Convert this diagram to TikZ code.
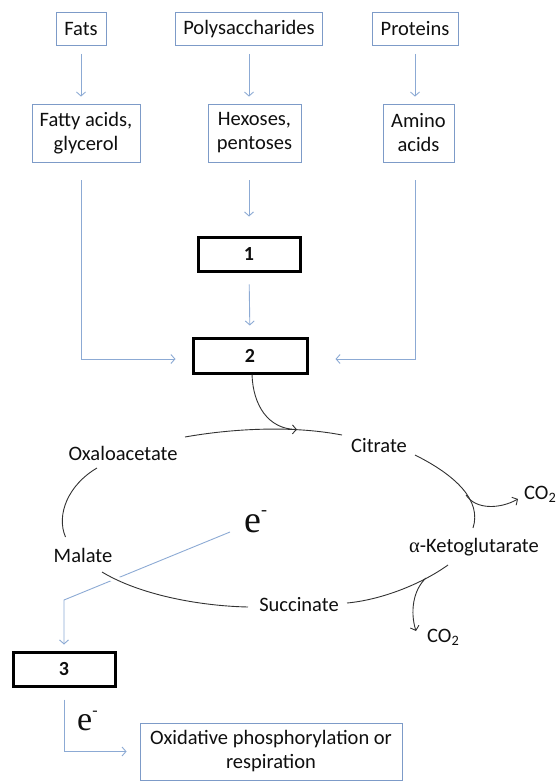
\documentclass[tikz,border=0pt]{standalone}
\usepackage{fontspec}
\setmainfont{Carlito}
\newfontfamily\serifeq{Liberation Serif}
\usetikzlibrary{arrows.meta,calc}
\definecolor{boxblue}{RGB}{125,155,200}
\definecolor{arrblue}{RGB}{140,170,212}
\definecolor{cyc}{RGB}{50,50,50}
\definecolor{txt}{RGB}{15,15,15}
\begin{document}
\begin{tikzpicture}[x=1pt,y=-1pt,
 lbl/.style={font=\fontsize{20.5}{24}\selectfont, text=txt, align=center, inner sep=0pt},
 bbox/.style={lbl, draw=boxblue, line width=0.8pt},
 kbox/.style={draw=black, line width=3pt, font=\fontsize{20}{22}\selectfont\bfseries, text=txt, inner sep=0pt},
 barrow/.style={draw=arrblue, line width=0.9pt, -{Straight Barb[length=4pt,width=9pt]}},
 cline/.style={draw=cyc, line width=0.9pt},
 carrow/.style={cline, -{Straight Barb[length=4pt,width=9pt]}},
 elec/.style={font=\serifeq\fontsize{38}{40}\selectfont, text=txt, inner sep=0pt}]
\useasboundingbox (0,0) rectangle (555,781);

% top row
\node[bbox, minimum width=50pt, minimum height=33pt] (fats) at (81,29) {Fats};
\node[bbox, minimum width=147pt, minimum height=33pt] (poly) at (249,29) {Polysaccharides};
\node[bbox, minimum width=86pt, minimum height=33pt] (prot) at (415,29) {Proteins};
% second row
\node[bbox, minimum width=108pt, minimum height=58pt] (fatty) at (86,133) {Fatty acids,\\glycerol};
\node[bbox, minimum width=93pt, minimum height=58pt] (hex) at (254.5,133) {Hexoses,\\pentoses};
\node[bbox, minimum width=71pt, minimum height=58pt] (amino) at (418.5,133) {Amino\\acids};
% black boxes
\node[kbox, minimum width=102pt, minimum height=34pt] (b1) at (249,254) {1};
\node[kbox, minimum width=114pt, minimum height=35pt] (b2) at (250,355.5) {2};
\node[kbox, minimum width=102pt, minimum height=34pt] (b3) at (64,669) {3};
\node[bbox, minimum width=262pt, minimum height=57pt] (oxph) at (271,751.5) {Oxidative phosphorylation or\\respiration};

% arrows top
\draw[barrow, shorten <=8pt, shorten >=7pt] (fats.south) -- (fats.south |- fatty.north);
\draw[barrow, shorten <=8pt, shorten >=7pt] (poly.south) -- (poly.south |- hex.north);
\draw[barrow, shorten <=8pt, shorten >=7pt] (prot.south) -- (prot.south |- amino.north);
\draw[barrow, shorten <=18pt, shorten >=19pt] (hex.south -| poly.south) -- (b1.north);
\draw[barrow, shorten <=12pt, shorten >=11pt] (b1.south) -- (b2.north);
\coordinate (lin) at ($(b2.west)+(0,3.5)$);
\coordinate (rin) at ($(b2.east)+(0,3.5)$);
\draw[barrow, shorten <=18pt, shorten >=16pt] (fatty.south -| fats.south) |- (lin);
\draw[barrow, shorten <=18pt, shorten >=27pt] (amino.south -| prot.south) |- (rin);

% cycle labels
\node[lbl] (oxa) at (123,453) {Oxaloacetate};
\node[lbl] (cit) at (379,446) {Citrate};
\node[lbl] (mal) at (83,555) {Malate};
\node[lbl] (akg) at (474,547) {{\serifeq α}-Ketoglutarate};
\node[lbl] (suc) at (299,605) {Succinate};
\node[lbl, anchor=west] (co2a) at (524,494) {CO\textsubscript{2}};
\node[lbl, anchor=west] (co2b) at (427,637) {CO\textsubscript{2}};

% electrons
\node[elec, anchor=base west] (e1) at (244,532) {e\raisebox{17pt}{\fontsize{18}{18}\selectfont -}};
\node[elec, anchor=base west, font=\serifeq\fontsize{34}{36}\selectfont] (e2) at (77,730) {e\raisebox{15pt}{\fontsize{16}{16}\selectfont -}};

% cycle coordinates
\coordinate (oxR) at (185,437);
\coordinate (citL) at (342,435);
\coordinate (citR) at (415,455);
\coordinate (akgT) at (473,528);
\coordinate (akgB) at (448,565);
\coordinate (sucR) at (347,603);
\coordinate (sucL) at (248,607);
\coordinate (malB) at (102,572);
\coordinate (malT) at (65.5,537);
\coordinate (oxL) at (97,468);

% cycle arcs
\draw[cline] (oxR) .. controls (230,429) and (290,425) .. (citL);
\draw[carrow] ($(b2.south)+(2,0)$) .. controls (253,405) and (268,429) .. (297,429.5);
\draw[cline] (citR) .. controls (455,475) and (482,500) .. (akgT);
\draw[carrow] (466,495) .. controls (476,510) and (500,509) .. (518,499);
\draw[cline] (akgB) .. controls (420,585) and (380,600) .. (sucR);
\draw[carrow] (426,578) .. controls (413,590) and (410,612) .. (416,631);
\draw[cline] (oxL) .. controls (68,485) and (56,515) .. (malT);

% electron path
\coordinate (eS) at (230,532);
\coordinate (eBend) at (64,600);
\draw[barrow, shorten >=6pt] (eS) -- (eBend) -- (b3.north);
\draw[barrow, shorten <=12pt, shorten >=13pt] (b3.south) |- (oxph.west);

\draw[cline, preaction={draw=white, line width=7pt}] (malB) .. controls (140,595) and (200,606) .. (sucL);
\end{tikzpicture}
\end{document}
